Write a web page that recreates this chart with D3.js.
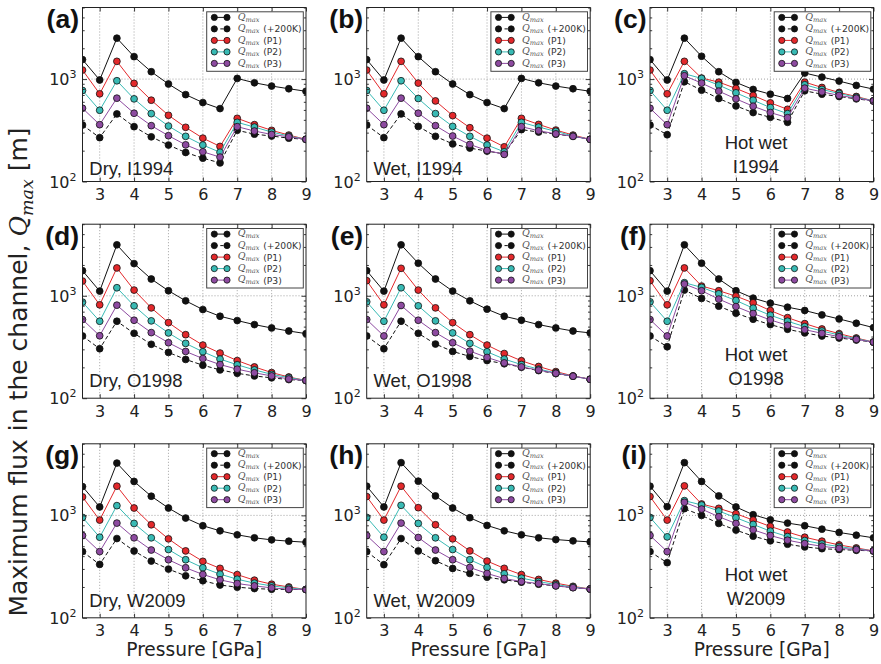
<!DOCTYPE html>
<html>
<head>
<meta charset="utf-8">
<script src="https://cdn.jsdelivr.net/npm/d3@7"></script>
<style>
  body { margin: 0; background: #fff; }
  svg { display: block; }
</style>
</head>
<body>
<svg id="fig" width="881" height="664"></svg>
<script>
// Pressure grid (GPa) shared by every panel
const pressure = [2.5, 3, 3.5, 4, 4.5, 5, 5.5, 6, 6.5, 7, 7.5, 8, 8.5, 9];
const xTickValues = [3, 4, 5, 6, 7, 8, 9];
const yMajorTicks = [100, 1000];
const yMinorTicks = [200, 300, 400, 500, 600, 700, 800, 900, 2000, 3000, 4000, 5000];

// Series order: Q_max, Q_max (+200K), Q_max (P1), Q_max (P2), Q_max (P3)
const seriesLabels = ["", "(+200K)", "(P1)", "(P2)", "(P3)"];
const seriesColors = ["#111111", "#111111", "#e3282b", "#38bab4", "#8d4aa0"];
const seriesDashed = [false, true, false, false, false];

// Maximum flux in the channel [m], one block per panel
const qDryI1994 = [
  [1550, 980, 2510, 1655, 1180, 895, 705, 590, 515, 1015, 920, 855, 805, 760],
  [356, 268, 457, 343, 273, 227, 192, 169, 152, 316, 290, 278, 265, 258],
  [1225, 718, 1490, 907, 622, 443, 338, 265, 220, 414, 359, 316, 284, 258],
  [774, 496, 963, 641, 460, 348, 276, 227, 193, 378, 340, 304, 278, 258],
  [519, 359, 651, 464, 351, 280, 228, 195, 173, 343, 311, 288, 273, 258]
];
const qWetI1994 = [
  [1550, 980, 2510, 1655, 1180, 895, 705, 590, 515, 1015, 920, 855, 805, 760],
  [356, 268, 457, 345, 276, 233, 212, 198, 186, 321, 304, 290, 276, 258],
  [1225, 718, 1490, 914, 612, 440, 335, 265, 218, 414, 361, 318, 284, 258],
  [774, 496, 963, 646, 460, 345, 276, 227, 195, 378, 340, 309, 278, 258],
  [519, 359, 651, 464, 351, 278, 230, 201, 184, 343, 313, 292, 276, 258]
];
const qHotI1994 = [
  [1550, 980, 2510, 1670, 1180, 928, 792, 712, 646, 1146, 1046, 956, 867, 798],
  [356, 286, 942, 780, 646, 547, 471, 423, 378, 768, 712, 676, 641, 612],
  [1225, 718, 1490, 1023, 934, 810, 692, 586, 507, 934, 828, 740, 676, 612],
  [774, 496, 1128, 1015, 873, 734, 622, 527, 460, 880, 792, 723, 665, 612],
  [519, 359, 1078, 914, 762, 641, 543, 471, 420, 816, 751, 692, 651, 612]
];
const qDryO1998 = [
  [1758, 1111, 3146, 2061, 1458, 1120, 893, 734, 631, 573, 523, 485, 453, 427],
  [405, 304, 564, 430, 336, 280, 239, 210, 189, 175, 165, 158, 152, 149],
  [1393, 816, 1870, 1137, 762, 547, 417, 330, 276, 233, 202, 178, 161, 149],
  [867, 564, 1198, 798, 569, 434, 343, 284, 241, 212, 189, 171, 159, 149],
  [586, 407, 810, 577, 437, 348, 286, 244, 213, 192, 177, 165, 154, 149]
];
const qWetO1998 = [
  [1758, 1111, 3146, 2080, 1458, 1111, 893, 740, 631, 577, 523, 485, 453, 434],
  [405, 304, 564, 430, 338, 286, 256, 233, 217, 201, 186, 174, 164, 153],
  [1403, 816, 1854, 1137, 762, 547, 417, 330, 273, 232, 204, 182, 165, 153],
  [873, 564, 1198, 798, 569, 434, 343, 284, 241, 213, 192, 177, 164, 153],
  [586, 405, 804, 577, 437, 348, 288, 250, 221, 202, 188, 175, 164, 153]
];
const qHotO1998 = [
  [1758, 1111, 3146, 2080, 1458, 1120, 949, 847, 774, 718, 651, 594, 539, 489],
  [405, 318, 1137, 942, 792, 676, 590, 523, 471, 434, 405, 387, 370, 353],
  [1403, 816, 1870, 1245, 1120, 992, 854, 718, 612, 535, 474, 427, 387, 353],
  [873, 564, 1342, 1208, 1046, 900, 757, 646, 564, 500, 453, 414, 381, 353],
  [586, 405, 1303, 1120, 928, 785, 671, 581, 515, 467, 430, 399, 375, 353]
];
const qDryW2009 = [
  [1912, 1208, 3243, 2143, 1538, 1180, 942, 792, 707, 646, 604, 577, 560, 547],
  [443, 332, 594, 449, 358, 299, 257, 230, 209, 199, 193, 190, 189, 189],
  [1514, 900, 1928, 1180, 810, 590, 450, 356, 304, 264, 233, 213, 200, 189],
  [956, 612, 1245, 834, 604, 464, 369, 308, 267, 238, 218, 205, 196, 189],
  [636, 443, 841, 604, 459, 369, 308, 265, 235, 216, 205, 196, 190, 189]
];
const qWetW2009 = [
  [1928, 1208, 3273, 2158, 1549, 1180, 949, 798, 707, 646, 604, 581, 564, 551],
  [443, 330, 594, 449, 361, 303, 271, 249, 235, 223, 213, 205, 197, 191],
  [1527, 900, 1928, 1189, 810, 590, 450, 358, 304, 264, 237, 218, 203, 191],
  [956, 612, 1254, 834, 604, 464, 369, 310, 269, 244, 226, 211, 200, 191],
  [636, 443, 841, 608, 459, 369, 310, 271, 242, 226, 216, 205, 197, 191]
];
const qHotW2009 = [
  [1928, 1216, 3273, 2143, 1549, 1208, 1015, 906, 841, 792, 734, 681, 641, 604],
  [443, 345, 1163, 1000, 834, 718, 627, 564, 523, 492, 473, 464, 456, 450],
  [1527, 900, 1941, 1291, 1172, 1038, 900, 780, 688, 612, 560, 515, 481, 450],
  [956, 617, 1393, 1263, 1104, 949, 816, 701, 621, 568, 526, 496, 470, 450],
  [636, 443, 1342, 1153, 970, 834, 723, 636, 572, 531, 499, 477, 464, 450]
];

const panelData = [qDryI1994, qWetI1994, qHotI1994,
                   qDryO1998, qWetO1998, qHotO1998,
                   qDryW2009, qWetW2009, qHotW2009];
const panelLetters = ["(a)", "(b)", "(c)", "(d)", "(e)", "(f)", "(g)", "(h)", "(i)"];
const panelTitles = [
  ["Dry, I1994"], ["Wet, I1994"], ["Hot wet", "I1994"],
  ["Dry, O1998"], ["Wet, O1998"], ["Hot wet", "O1998"],
  ["Dry, W2009"], ["Wet, W2009"], ["Hot wet", "W2009"]
];

// ---- layout ----
const svg = d3.select("#fig");
const W = 223.5, H = 174;
const colX = [82.5, 366.7, 650];
const rowY = [7.5, 224.2, 443.8];
const titleDrop = [6.5, 11, 11];
const sans = "'DejaVu Sans', sans-serif";
const helv = "'Liberation Sans', Arial, sans-serif";
const mathFont = "'DejaVu Serif', 'Liberation Serif', serif";

const x = d3.scaleLinear().domain([2.5, 9]).range([0, W]);
const y = d3.scaleLog().domain([100, 5000]).range([H, 0]);
const line = d3.line().x((d, i) => x(pressure[i])).y(d => y(d));

function qmaxText(sel, size, fill) {
  sel.append("tspan").attr("font-family", mathFont).attr("font-style", "italic")
    .attr("font-size", size).attr("fill", fill).text("Q");
  sel.append("tspan").attr("font-family", mathFont).attr("font-style", "italic")
    .attr("font-size", size * 0.7).attr("fill", fill).attr("dy", size * 0.22).text("max");
}

panelData.forEach((series, i) => {
  const r = Math.floor(i / 3), c = i % 3;
  const g = svg.append("g").attr("transform", `translate(${colX[c]},${rowY[r]})`);

  g.append("clipPath").attr("id", "clip" + i)
    .append("rect").attr("width", W).attr("height", H);

  // dotted grid on the major ticks
  const grid = g.append("g").attr("stroke", "#8a8a8a").attr("stroke-width", 0.8)
    .attr("stroke-dasharray", "1,2");
  grid.selectAll("line.vx").data(xTickValues.filter(v => v < 9)).join("line")
    .attr("x1", d => x(d)).attr("x2", d => x(d)).attr("y1", 0).attr("y2", H);
  grid.selectAll("line.hy").data([1000]).join("line")
    .attr("x1", 0).attr("x2", W).attr("y1", d => y(d)).attr("y2", d => y(d));

  // series
  const plot = g.append("g").attr("clip-path", `url(#clip${i})`);
  series.forEach((vals, s) => {
    plot.append("path").datum(vals).attr("d", line).attr("fill", "none")
      .attr("stroke", seriesColors[s]).attr("stroke-width", 1)
      .attr("stroke-dasharray", seriesDashed[s] ? "4,2.5" : null);
    plot.append("g").selectAll("circle").data(vals).join("circle")
      .attr("cx", (d, k) => x(pressure[k])).attr("cy", d => y(d)).attr("r", 3.4)
      .attr("fill", seriesColors[s]).attr("stroke", "#111").attr("stroke-width", 0.8);
  });

  // axes with inward ticks on all four sides
  const styleAxis = a => { a.select(".domain").remove();
    a.selectAll(".tick line").attr("stroke", "#222").attr("stroke-width", 0.9); };
  g.append("g").attr("transform", `translate(0,${H})`)
    .call(d3.axisBottom(x).tickValues(xTickValues).tickFormat(d3.format("d"))
      .tickSizeInner(-4).tickSizeOuter(0).tickPadding(7))
    .call(styleAxis)
    .call(a => a.selectAll("text").attr("font-family", sans).attr("font-size", 16).attr("fill", "#222"));
  g.append("g")
    .call(d3.axisTop(x).tickValues(xTickValues).tickSizeInner(-4).tickSizeOuter(0).tickFormat(""))
    .call(styleAxis);
  [[d3.axisLeft, 0], [d3.axisRight, W]].forEach(([ax, tx]) => {
    g.append("g").attr("transform", `translate(${tx},0)`)
      .call(ax(y).tickValues(yMajorTicks).tickSizeInner(-4.5).tickSizeOuter(0).tickFormat(""))
      .call(styleAxis);
    g.append("g").attr("transform", `translate(${tx},0)`)
      .call(ax(y).tickValues(yMinorTicks).tickSizeInner(-2.2).tickSizeOuter(0).tickFormat(""))
      .call(styleAxis);
  });

  // power-of-ten labels
  yMajorTicks.forEach(v => {
    const t = g.append("text").attr("x", -6).attr("y", y(v) + 6)
      .attr("text-anchor", "end").attr("font-family", sans).attr("fill", "#222");
    t.append("tspan").attr("font-size", 16).text("10");
    t.append("tspan").attr("font-size", 11).attr("dy", -7).text(Math.round(Math.log10(v)));
  });

  // frame
  g.append("rect").attr("width", W).attr("height", H).attr("fill", "none")
    .attr("stroke", "#222").attr("stroke-width", 1);

  // panel annotation
  const tl = panelTitles[i];
  if (tl.length === 1) {
    g.append("text").attr("x", 6.8).attr("y", H - titleDrop[r])
      .attr("font-family", helv).attr("font-size", 18.5).attr("fill", "#222").text(tl[0]);
  } else {
    tl.forEach((s, k) => {
      g.append("text").attr("x", 106).attr("y", H - titleDrop[r] - 2 - (1 - k) * 24)
        .attr("text-anchor", "middle").attr("font-family", helv)
        .attr("font-size", 18.5).attr("fill", "#222").text(s);
    });
  }

  // panel letter
  g.append("text").attr("x", -3.5).attr("y", 20.5).attr("text-anchor", "end")
    .attr("font-family", helv).attr("font-weight", "bold").attr("font-size", 26.5)
    .attr("fill", "#111").text(panelLetters[i]);

  // legend
  const lg = g.append("g").attr("transform", `translate(${W - 99.3},4.3)`);
  lg.append("rect").attr("width", 96.6).attr("height", 59.5).attr("fill", "#fff")
    .attr("stroke", "#444").attr("stroke-width", 1);
  seriesLabels.forEach((lab, s) => {
    const cy = 5.6 + s * 11.5;
    lg.append("line").attr("x1", 7.6).attr("x2", 20.3).attr("y1", cy).attr("y2", cy)
      .attr("stroke", seriesColors[s]).attr("stroke-width", 1)
      .attr("stroke-dasharray", seriesDashed[s] ? "3.2,2.8" : null);
    [7.6, 20.3].forEach(cx => lg.append("circle").attr("cx", cx).attr("cy", cy).attr("r", 3.1)
      .attr("fill", seriesColors[s]).attr("stroke", "#111").attr("stroke-width", 0.8));
    const t = lg.append("text").attr("x", 31).attr("y", cy + 2.2);
    qmaxText(t, 9.5, "#555");
    if (lab) {
      lg.append("text").attr("x", 56.5).attr("y", cy + 3.4).attr("font-family", sans)
        .attr("font-size", 9.2).attr("fill", "#333").text(lab);
    }
  });
});

// shared axis titles
const yl = svg.append("text").attr("transform", "translate(27,372) rotate(-90)")
  .attr("text-anchor", "middle").attr("font-family", sans).attr("font-size", 25).attr("fill", "#222");
yl.append("tspan").text("Maximum flux in the channel, ");
qmaxText(yl, 25, "#222");
yl.append("tspan").attr("dy", -25 * 0.22).text(" [m]");

colX.forEach(cx => {
  svg.append("text").attr("x", cx + W / 2).attr("y", 656).attr("text-anchor", "middle")
    .attr("font-family", sans).attr("font-size", 18.6).attr("fill", "#222").text("Pressure [GPa]");
});
</script>
</body>
</html>
